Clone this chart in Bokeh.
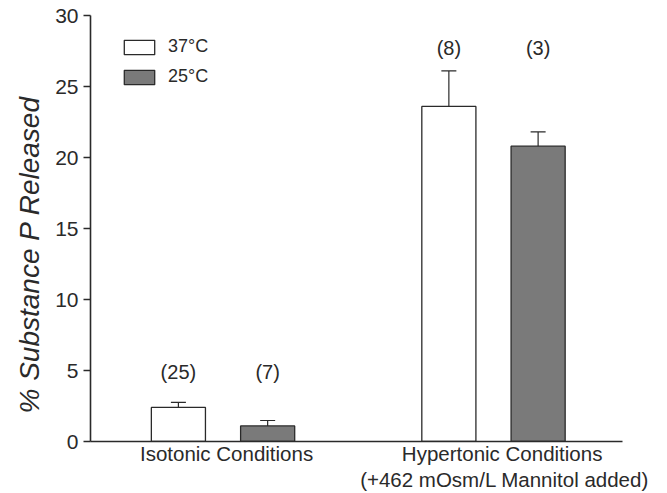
from bokeh.plotting import figure
from bokeh.models import (Range1d, FixedTicker, Whisker, ColumnDataSource, Legend,
                          LegendItem, TeeHead, Title, LinearAxis)
from bokeh.core.properties import value
from bokeh.embed import file_html
from bokeh.resources import INLINE

# ---- data ----
group_labels = ["Isotonic Conditions", "Hypertonic Conditions"]
group_sublabels = ["", "(+462 mOsm/L Mannitol added)"]
series_names = ["37\u00b0C", "25\u00b0C"]
mean_37 = [2.4, 23.6]
mean_25 = [1.1, 20.8]
sem_37 = [0.35, 2.5]
sem_25 = [0.38, 1.0]
n_37 = ["(25)", "(8)"]
n_25 = ["(7)", "(3)"]
y_ticks = [0, 5, 10, 15, 20, 25, 30]
y_title = "% Substance P Released"

# ---- layout constants ----
group_pos = [1.0, 2.0]
offset = 0.165
bar_w = 0.2
count_label_y = [4.9, 27.7]
label_nudge = [0.013, 0.032]
sublabel_nudge = [0.0, 0.041]
FONT = "Liberation Sans"
AX = "#2a2a2a"
TXT = "#2a2a2a"

p = figure(width=667, height=493, output_backend="svg", toolbar_location=None,
           x_range=Range1d(0.51, 2.477), y_range=Range1d(0, 30))
p.min_border_left = 90
p.min_border_right = 45
p.min_border_top = 15
p.min_border_bottom = 51
p.outline_line_color = None
p.grid.visible = False
p.background_fill_color = "white"
p.border_fill_color = "white"

x37 = [g - offset for g in group_pos]
x25 = [g + offset for g in group_pos]

src37 = ColumnDataSource(dict(x=x37, top=mean_37, up=[m + s for m, s in zip(mean_37, sem_37)],
                              n=n_37, ly=count_label_y))
src25 = ColumnDataSource(dict(x=x25, top=mean_25, up=[m + s for m, s in zip(mean_25, sem_25)],
                              n=n_25, ly=count_label_y))

for src in (src37, src25):
    w = Whisker(source=src, base="x", lower="top", upper="up", dimension="height",
                line_color=AX, line_width=1.2,
                upper_head=TeeHead(size=15, line_color=AX, line_width=1.2),
                lower_head=None)
    p.add_layout(w)

r37 = p.vbar(x="x", top="top", bottom=0, width=bar_w, source=src37,
             fill_color="white", line_color=AX, line_width=1.3)
r25 = p.vbar(x="x", top="top", bottom=0, width=bar_w, source=src25,
             fill_color="#7a7a7a", line_color=AX, line_width=1.3)

for src in (src37, src25):
    p.text(x="x", y="ly", text="n", source=src, text_align="center",
           text_baseline="middle", text_font=value(FONT),
           text_font_size="20px", text_color=TXT)

legend = Legend(items=[LegendItem(label=series_names[0], renderers=[r37]),
                       LegendItem(label=series_names[1], renderers=[r25])],
                location=(30, 354), orientation="vertical",
                glyph_width=38, glyph_height=18, spacing=9, padding=0, margin=0,
                label_standoff=10, label_text_font=FONT, label_text_font_size="18px",
                label_text_color=TXT, border_line_color=None,
                background_fill_alpha=0)
p.add_layout(legend)

# y axis
yax = p.yaxis[0]
yax.ticker = FixedTicker(ticks=y_ticks)
yax.minor_tick_line_color = None
yax.major_tick_in = 0
yax.major_tick_out = 7
yax.axis_line_color = AX
yax.axis_line_width = 1.6
yax.major_tick_line_color = AX
yax.major_tick_line_width = 1.4
yax.major_label_text_font = FONT
yax.major_label_text_font_size = "21px"
yax.major_label_text_color = TXT
yax.major_label_standoff = 5

p.add_layout(Title(text=y_title, align="left", offset=28, standoff=15,
                   text_font=FONT, text_font_style="italic", text_font_size="28px",
                   text_color=TXT), "left")

# x axis: first line of category labels
xax = p.xaxis[0]
ticks = [g + d for g, d in zip(group_pos, label_nudge)]
xax.ticker = FixedTicker(ticks=ticks)
xax.major_label_overrides = {t: lab for t, lab in zip(ticks, group_labels)}
xax.minor_tick_line_color = None
xax.major_tick_line_color = None
xax.major_tick_in = 0
xax.major_tick_out = 0
xax.axis_line_color = AX
xax.axis_line_width = 1.6
xax.major_label_text_font = FONT
xax.major_label_text_font_size = "20.5px"
xax.major_label_text_color = TXT
xax.major_label_standoff = 0

# second line of category labels
sub_ticks = [g + d for g, d, s in zip(group_pos, sublabel_nudge, group_sublabels) if s]
sub_text = [s for s in group_sublabels if s]
xax2 = LinearAxis(ticker=FixedTicker(ticks=sub_ticks),
                  major_label_overrides={t: s for t, s in zip(sub_ticks, sub_text)},
                  axis_line_color=None, major_tick_line_color=None,
                  minor_tick_line_color=None, major_tick_in=0, major_tick_out=0,
                  major_label_standoff=0,
                  major_label_text_font=FONT, major_label_text_font_size="20.5px",
                  major_label_text_color=TXT)
p.add_layout(xax2, "below")

open("out.html", "w").write(file_html(p, INLINE))
